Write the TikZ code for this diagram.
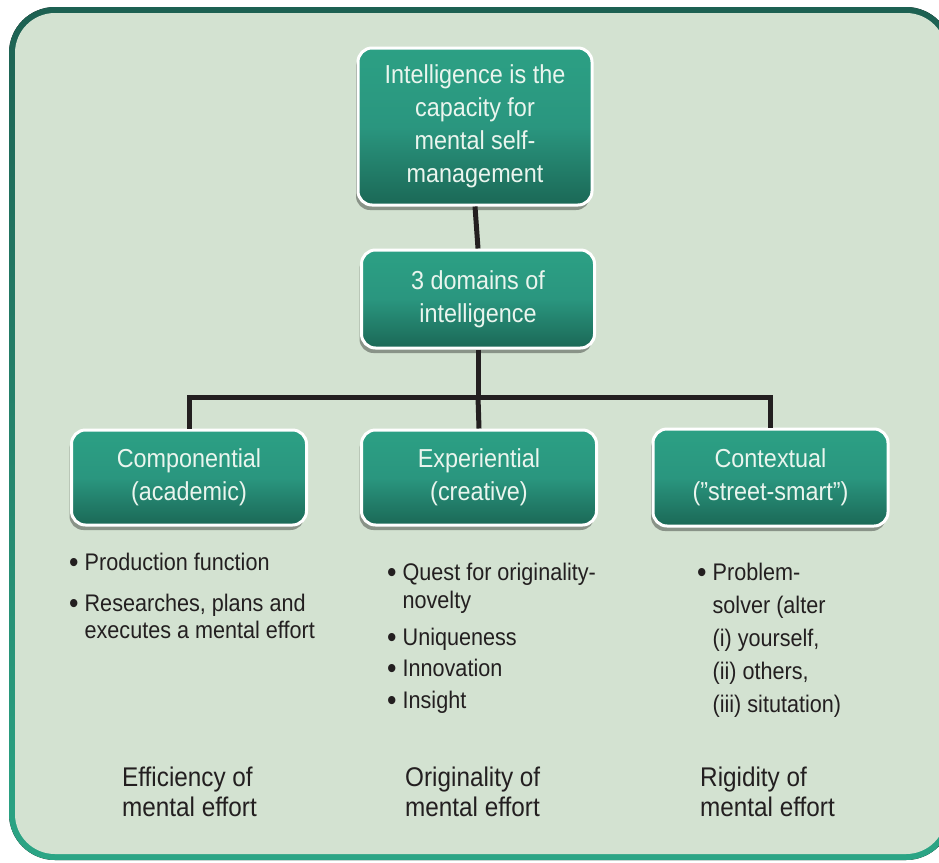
\documentclass[tikz,border=0pt]{standalone}
\usepackage{fontspec}
\setmainfont[FakeStretch=0.9]{Liberation Sans}
\usetikzlibrary{shadows}
\definecolor{bgcol}{HTML}{D3E2D1}
\definecolor{frametop}{HTML}{1D6152}
\definecolor{framebot}{HTML}{2BA585}
\definecolor{boxtop}{HTML}{2CA084}
\definecolor{boxmid}{HTML}{2A967F}
\definecolor{boxbot}{HTML}{1B6856}
\definecolor{boxtext}{HTML}{EAF5EE}
\definecolor{ink}{HTML}{231F20}
\newcommand{\bulletmark}{{\fontsize{30}{30}\selectfont\raisebox{-2pt}{•}}}
\tikzset{
  greenbox/.style={rounded corners=14pt, draw=white, line width=3pt,
    top color=boxtop, bottom color=boxbot, middle color=boxmid,
    text=boxtext, align=center, inner sep=0pt,
    font=\fontsize{26}{33}\selectfont,
    drop shadow={shadow xshift=-2pt, shadow yshift=-5pt, opacity=0.35, fill=black}},
  link/.style={draw=ink, line width=5pt},
  bodytext/.style={text=ink, inner sep=0pt, anchor=base west, align=left},
}
\begin{document}
\begin{tikzpicture}[x=1pt,y=-1pt]
\clip (0,0) rectangle (939,862);
\fill[white] (0,0) rectangle (939,862);
% frame
\fill[top color=frametop, bottom color=framebot, rounded corners=46pt] (9,7) rectangle (952,860);
\fill[bgcol, rounded corners=40pt] (15,13) rectangle (946,854);
% boxes
\node[greenbox, minimum width=234pt, minimum height=157pt] (top) at (475,126.5)
  {Intelligence is the\\capacity for\\mental self-\\management};
\node[greenbox, minimum width=233pt, minimum height=98pt] (mid) at (478,299)
  {3 domains of\\intelligence};
\node[greenbox, minimum width=235pt, minimum height=95pt] (comp) at (189,477.5)
  {Componential\\(academic)};
\node[greenbox, minimum width=235pt, minimum height=95pt] (exp) at (479,477.5)
  {Experiential\\(creative)};
\node[greenbox, minimum width=235pt, minimum height=97pt] (cont) at (770.5,477.5)
  {Contextual\\(”street-smart”)};
% connectors
\coordinate (jl) at (189,397);
\coordinate (jm) at (478,397);
\draw[link] (top.south) -- (mid.north);
\draw[link] (mid.south) -- (jm);
\draw[link, line join=miter] (comp.north) -- (jl) -- (cont.north |- jl) -- (cont.north);
\draw[link] (jm) -- (exp.north);
% lists
\node[bodytext, font=\fontsize{24}{27}\selectfont] (complist) at (69,570)
  {\begin{tabular}[t]{@{}l@{\hspace{6pt}}l@{}}\bulletmark&Production function\\[14pt]
   \bulletmark&Researches, plans and\\ &executes a mental effort\end{tabular}};
\node[bodytext, font=\fontsize{24}{30}\selectfont] (explist) at (387,580)
  {\begin{tabular}[t]{@{}l@{\hspace{6pt}}l@{}}\bulletmark&Quest for originality-\\[-2pt]
   &novelty\\[7pt] \bulletmark&Uniqueness\\[1pt] \bulletmark&Innovation\\[2pt] \bulletmark&Insight\end{tabular}};
\node[bodytext, font=\fontsize{24}{33}\selectfont] (contlist) at (697,580)
  {\begin{tabular}[t]{@{}l@{\hspace{6pt}}l@{}}\bulletmark&Problem-\\ &solver (alter\\ &(i) yourself,\\
   &(ii) others,\\ &(iii) situtation)\end{tabular}};
% bottom labels
\node[bodytext, font=\fontsize{27}{30}\selectfont] (eff) at (122,786)
  {\begin{tabular}[t]{@{}l@{}}Efficiency of\\mental effort\end{tabular}};
\node[bodytext, font=\fontsize{27}{30}\selectfont] (orig) at (405,786)
  {\begin{tabular}[t]{@{}l@{}}Originality of\\mental effort\end{tabular}};
\node[bodytext, font=\fontsize{27}{30}\selectfont] (rig) at (700,786)
  {\begin{tabular}[t]{@{}l@{}}Rigidity of\\mental effort\end{tabular}};
\end{tikzpicture}
\end{document}
